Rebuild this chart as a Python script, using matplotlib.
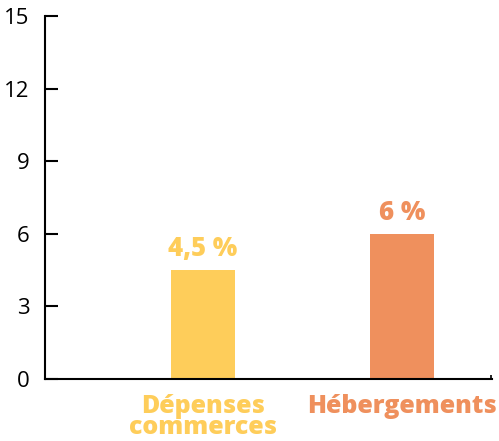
import matplotlib.pyplot as plt

categories = ['Dépenses\ncommerces', 'Hébergements']
values = [4.5, 6]
value_labels = ['4,5 %', '6 %']
colors = ['#FECD5A', '#EF905D']

fig = plt.figure(figsize=(4.99, 4.41), dpi=100)
ax = fig.add_axes([45/499, 1 - 379/441, (492-45)/499, (379-16)/441])

x = list(range(len(categories)))
bars = ax.bar(x, values, width=0.32, color=colors)

for b, lab, c in zip(bars, value_labels, colors):
    ax.text(b.get_x() + b.get_width()/2, b.get_height() + 0.58, lab,
            ha='center', va='baseline', color=c, fontsize=18.5,
            fontweight='heavy', family='Open Sans')

ax.set_xlim(-0.794, 1.452)
ax.set_ylim(0, 15)
ax.set_yticks([0, 3, 6, 9, 12, 15])
ax.set_xticks(x)
ax.set_xticklabels(categories, fontsize=18, fontweight='heavy',
                   family='Open Sans', linespacing=0.8)
for t, c in zip(ax.get_xticklabels(), colors):
    t.set_color(c)

# petite graduation en bout d'axe
ax.set_xticks([ax.get_xlim()[1] - 0.004], minor=True)
ax.tick_params(axis='x', which='minor', direction='in', length=3, width=1.2)

for lab in ax.get_yticklabels():
    lab.set_family('Open Sans')
    lab.set_fontsize(16)

ax.tick_params(axis='y', direction='in', length=9, width=1.5, pad=11)
ax.tick_params(axis='x', which='major', length=0, pad=11)
ax.spines['top'].set_visible(False)
ax.spines['right'].set_visible(False)
ax.spines['left'].set_linewidth(1.5)
ax.spines['bottom'].set_linewidth(1.5)

fig.savefig('out.png', dpi=100)
